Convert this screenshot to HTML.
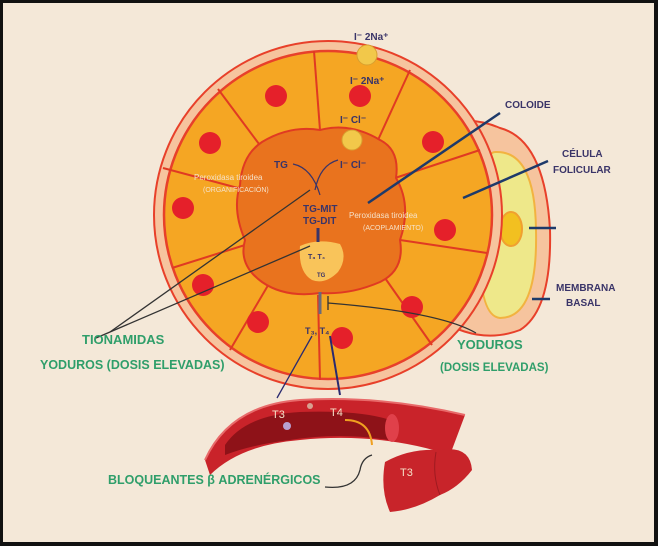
<!DOCTYPE html>
<html><head><meta charset="utf-8"><style>
html,body{margin:0;padding:0;background:#000;}
svg{display:block;}
.nv{font-family:"Liberation Sans",sans-serif;font-weight:bold;fill:#3a3468;}
.gr{font-family:"Liberation Sans",sans-serif;fill:#2f9e6a;font-weight:bold;}
.wt{font-family:"Liberation Sans",sans-serif;fill:#f5e1c8;}
</style></head><body>
<svg width="658" height="546" viewBox="0 0 658 546" xmlns="http://www.w3.org/2000/svg">
<rect x="0" y="0" width="658" height="546" fill="#111"/>
<rect x="3" y="3" width="651" height="539" fill="#f4e8d8"/>
<path d="M440 125 Q470 115 500 128 Q545 140 550 230 Q552 310 520 330 Q480 345 440 320 Z" fill="#f6c49e" stroke="#e8402a" stroke-width="2"/>
<path d="M495 152 Q535 150 536 230 Q538 318 500 318 Q478 316 480 240 Q480 152 495 152 Z" fill="#eee88a" stroke="#f2b340" stroke-width="2"/>
<ellipse cx="511" cy="229" rx="11" ry="17" fill="#f2c020" stroke="#f0a030" stroke-width="2"/>
<circle cx="328" cy="215" r="174" fill="#f6c49e" stroke="#e8402a" stroke-width="2"/>
<circle cx="328" cy="215" r="164" fill="#f5a623" stroke="#e8402a" stroke-width="2.5"/>
<g stroke="#e03a22" stroke-width="2" fill="none">
<line x1="314" y1="51" x2="320" y2="130"/>
<line x1="218" y1="89" x2="262" y2="148"/>
<line x1="163" y1="168" x2="238" y2="188"/>
<line x1="172" y1="268" x2="245" y2="245"/>
<line x1="230" y1="350" x2="270" y2="282"/>
<line x1="320" y1="380" x2="318" y2="295"/>
<line x1="432" y1="345" x2="385" y2="278"/>
<line x1="487" y1="253" x2="400" y2="240"/>
<line x1="480" y1="150" x2="395" y2="178"/>
<line x1="410" y1="70" x2="378" y2="140"/>
</g>
<path d="M262 142 Q290 125 320 130 Q350 122 380 140 Q400 150 396 178 Q412 205 400 240 Q405 270 380 282 Q350 295 320 293 Q285 298 262 282 Q238 265 245 240 Q232 210 240 185 Q242 155 262 142 Z" fill="#e9731e" stroke="#e03a22" stroke-width="2"/>
<path d="M300 246 Q318 238 340 244 Q348 258 338 272 Q325 285 312 280 Q298 272 300 246 Z" fill="#f9c45a"/>
<g fill="#e5202a">
<circle cx="276" cy="96" r="11"/><circle cx="360" cy="96" r="11"/>
<circle cx="210" cy="143" r="11"/><circle cx="433" cy="142" r="11"/>
<circle cx="183" cy="208" r="11"/><circle cx="445" cy="230" r="11"/>
<circle cx="203" cy="285" r="11"/><circle cx="258" cy="322" r="11"/>
<circle cx="342" cy="338" r="11"/><circle cx="412" cy="307" r="11"/>
</g>
<circle cx="367" cy="55" r="10" fill="#f2c84a" stroke="#d8a030"/>
<circle cx="352" cy="140" r="10" fill="#f2c84a" stroke="#d8a030"/>
<text x="354" y="40" class="nv" font-size="10">I⁻ 2Na⁺</text>
<text x="350" y="84" class="nv" font-size="10">I⁻ 2Na⁺</text>
<text x="340" y="123" class="nv" font-size="10">I⁻  Cl⁻</text>
<text x="340" y="168" class="nv" font-size="10">I⁻  Cl⁻</text>
<text x="274" y="168" class="nv" font-size="10">TG</text>
<path d="M293 164 Q312 168 320 195" stroke="#3a3468" fill="none" stroke-width="1.2"/>
<path d="M338 160 Q320 165 315 190" stroke="#3a3468" fill="none" stroke-width="1.2"/>
<text x="194" y="180" class="wt" font-size="8">Peroxidasa tiroidea</text>
<text x="203" y="192" class="wt" font-size="7">(ORGANIFICACIÓN)</text>
<text x="349" y="218" class="wt" font-size="8">Peroxidasa tiroidea</text>
<text x="363" y="230" class="wt" font-size="7">(ACOPLAMIENTO)</text>
<text x="303" y="212" class="nv" font-size="10">TG-MIT</text>
<text x="303" y="224" class="nv" font-size="10">TG-DIT</text>
<line x1="318" y1="228" x2="318" y2="242" stroke="#3a3468" stroke-width="3"/>
<text x="308" y="259" class="nv" font-size="7">T₃  T₄</text>
<text x="317" y="277" class="nv" font-size="6">TG</text>
<line x1="320" y1="292" x2="320" y2="314" stroke="#6a6a7a" stroke-width="3"/>
<text x="305" y="334" class="nv" font-size="9">T₃, T₄</text>
<g stroke="#1e3a6a" stroke-width="2.5">
<line x1="368" y1="203" x2="500" y2="113"/>
<line x1="463" y1="198" x2="548" y2="161"/>
<line x1="529" y1="228" x2="556" y2="228"/>
<line x1="532" y1="299" x2="550" y2="299"/>
</g>
<g stroke="#333" stroke-width="1.3" fill="none">
<line x1="110" y1="332" x2="310" y2="190"/>
<line x1="110" y1="332" x2="310" y2="246"/>
<line x1="96" y1="338" x2="110" y2="332"/>
<path d="M328 303 Q440 312 476 333"/>
<line x1="328" y1="296" x2="328" y2="310"/>
<path d="M312 336 L277 398" stroke="#2a2a70"/>
<path d="M330 336 L340 395" stroke="#2a2a70" stroke-width="2"/>
<path d="M325 487 Q355 490 360 470 Q362 458 372 455"/>
</g>
<path d="M205 460 Q230 405 300 400 Q380 395 465 415 L450 455 Q380 432 300 440 Q240 445 210 475 Z" fill="#c9232a"/>
<path d="M225 445 Q245 415 300 412 Q360 410 390 420 Q395 430 388 440 Q340 432 290 440 Q250 445 225 455 Z" fill="#8e1218"/>
<ellipse cx="392" cy="428" rx="7" ry="14" fill="#e0404a"/>
<path d="M205 460 Q230 405 300 400 Q380 395 465 415" fill="none" stroke="#e86a6a" stroke-width="2"/>
<text x="272" y="418" class="wt" font-size="11" fill="#f8d8c8">T3</text>
<text x="330" y="416" class="wt" font-size="11" fill="#f8d8c8">T4</text>
<circle cx="287" cy="426" r="4" fill="#b8a0d0"/>
<circle cx="310" cy="406" r="3" fill="#d8a090"/>
<path d="M345 420 Q370 420 372 445" stroke="#f0a020" stroke-width="2" fill="none"/>
<path d="M385 462 Q410 448 440 450 Q470 445 472 470 Q458 488 440 495 Q415 510 390 512 Q380 490 385 462 Z" fill="#c8242a"/>
<path d="M436 452 Q432 475 440 495" stroke="#9e1a20" fill="none"/>
<text x="400" y="476" class="wt" font-size="11" fill="#f8d8c8">T3</text>
<text x="505" y="108" class="nv" font-size="10">COLOIDE</text>
<text x="562" y="157" class="nv" font-size="10">CÉLULA</text>
<text x="553" y="173" class="nv" font-size="10">FOLICULAR</text>
<text x="556" y="291" class="nv" font-size="10">MEMBRANA</text>
<text x="566" y="306" class="nv" font-size="10">BASAL</text>
<text x="82" y="344" class="gr" font-size="13">TIONAMIDAS</text>
<text x="40" y="369" class="gr" font-size="12.5">YODUROS (DOSIS ELEVADAS)</text>
<text x="457" y="349" class="gr" font-size="13">YODUROS</text>
<text x="440" y="371" class="gr" font-size="11.5">(DOSIS ELEVADAS)</text>
<text x="108" y="484" class="gr" font-size="12.5">BLOQUEANTES β ADRENÉRGICOS</text>
</svg>
</body></html>
